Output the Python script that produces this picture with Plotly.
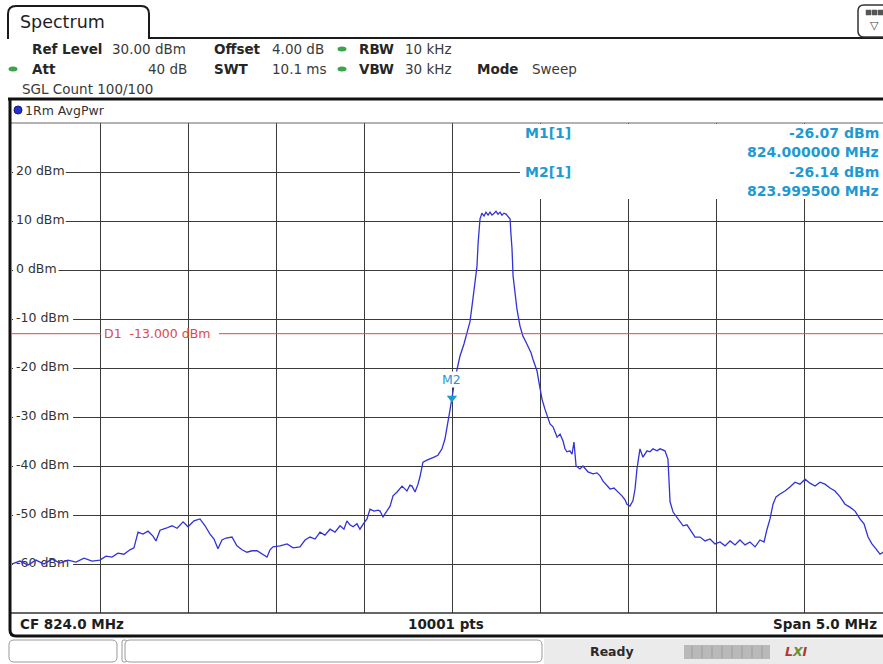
import plotly.graph_objects as go

W, H = 883, 664

# ---- spectrum trace (MHz, dBm) ----
freq_mhz = [
    821.500, 821.545, 821.591, 821.636, 821.682, 821.727, 821.773, 821.818, 821.864, 821.909,
    821.955, 822.000, 822.034, 822.068, 822.102, 822.136, 822.170, 822.193, 822.216, 822.244,
    822.273, 822.301, 822.318, 822.341, 822.375, 822.409, 822.438, 822.472, 822.500, 822.534,
    822.568, 822.597, 822.625, 822.648, 822.670, 822.693, 822.716, 822.750, 822.778, 822.807,
    822.835, 822.864, 822.892, 822.920, 822.949, 822.966, 822.983, 823.023, 823.063, 823.097,
    823.136, 823.165, 823.193, 823.222, 823.250, 823.278, 823.307, 823.335, 823.364, 823.386,
    823.403, 823.420, 823.438, 823.460, 823.477, 823.500, 823.517, 823.534, 823.557, 823.580,
    823.591, 823.608, 823.631, 823.648, 823.665, 823.688, 823.716, 823.744, 823.761, 823.773,
    823.790, 823.807, 823.818, 823.835, 823.858, 823.875, 823.898, 823.920, 823.943, 823.960,
    823.977, 823.989, 823.9995, 824.000, 824.017, 824.034, 824.045, 824.068, 824.085, 824.102,
    824.119, 824.131, 824.142, 824.148, 824.159, 824.170, 824.182, 824.193, 824.205, 824.216,
    824.227, 824.239, 824.250, 824.261, 824.273, 824.284, 824.295, 824.307, 824.318, 824.330,
    824.335, 824.341, 824.347, 824.358, 824.369, 824.386, 824.403, 824.420, 824.432, 824.449,
    824.460, 824.472, 824.483, 824.494, 824.511, 824.528, 824.540, 824.557, 824.574, 824.597,
    824.614, 824.631, 824.642, 824.653, 824.670, 824.682, 824.693, 824.705, 824.727, 824.744,
    824.773, 824.801, 824.824, 824.841, 824.858, 824.881, 824.898, 824.920, 824.938, 824.966,
    824.983, 824.994, 825.011, 825.028, 825.040, 825.051, 825.068, 825.085, 825.108, 825.125,
    825.142, 825.165, 825.182, 825.199, 825.210, 825.227, 825.239, 825.256, 825.284, 825.313,
    825.335, 825.352, 825.381, 825.409, 825.438, 825.466, 825.494, 825.523, 825.551, 825.580,
    825.608, 825.636, 825.665, 825.693, 825.722, 825.750, 825.773, 825.790, 825.807, 825.824,
    825.841, 825.864, 825.892, 825.920, 825.949, 825.977, 826.006, 826.034, 826.063, 826.091,
    826.119, 826.148, 826.176, 826.205, 826.233, 826.261, 826.290, 826.318, 826.341, 826.364,
    826.386, 826.409, 826.432, 826.449, 826.500,
]
level_dbm = [
    -60.0, -59.4, -60.2, -59.2, -60.0, -59.0, -59.8, -59.2, -59.6, -58.8,
    -59.4, -59.2, -58.4, -58.6, -57.8, -58.0, -57.1, -56.7, -53.5, -53.9,
    -53.3, -54.3, -55.3, -53.1, -52.7, -52.2, -52.7, -51.4, -52.4, -51.2,
    -50.8, -52.2, -53.9, -54.9, -56.9, -55.1, -54.7, -54.5, -56.3, -57.1,
    -57.6, -57.3, -57.3, -58.0, -58.6, -57.1, -56.5, -56.3, -55.9, -56.7,
    -56.5, -55.1, -54.5, -54.9, -53.5, -54.1, -52.9, -53.5, -52.2, -52.9,
    -51.2, -52.0, -52.4, -51.8, -52.9, -51.6, -50.8, -48.8, -49.2, -49.0,
    -49.2, -50.4, -49.0, -48.2, -46.1, -45.3, -44.1, -45.1, -43.9, -44.1,
    -45.3, -43.7, -42.2, -39.2, -38.8, -38.6, -38.2, -37.8, -36.5, -34.5,
    -31.4, -28.5, -26.14, -26.07, -22.2, -19.2, -17.6, -15.1, -12.7, -10.6,
    -5.9, -2.4, 0.8, 5.3, 10.4, 11.6, 11.0, 11.8, 11.2, 11.8,
    11.2, 11.6, 12.0, 11.4, 11.8, 11.2, 11.6, 11.4, 11.0, 10.4,
    7.3, 4.3, -1.2, -4.9, -8.0, -11.4, -13.5, -14.7, -15.5, -16.9,
    -18.2, -19.4, -20.6, -22.9, -26.3, -28.4, -29.8, -31.4, -32.0, -34.1,
    -33.5, -34.9, -36.5, -37.1, -36.9, -37.6, -35.1, -40.0, -40.6, -40.0,
    -41.2, -41.6, -41.4, -42.0, -43.1, -43.9, -44.7, -44.5, -45.1, -46.1,
    -46.9, -47.8, -48.2, -47.1, -44.7, -40.6, -36.5, -38.2, -36.9, -37.1,
    -36.5, -36.9, -36.5, -36.7, -36.9, -38.6, -47.3, -49.4, -50.8, -52.2,
    -52.0, -52.9, -54.5, -54.5, -55.3, -54.9, -55.9, -55.5, -56.3, -55.3,
    -56.1, -55.1, -56.1, -55.5, -56.5, -55.1, -55.5, -52.9, -50.8, -47.8,
    -46.3, -45.7, -45.1, -44.3, -43.3, -43.7, -42.7, -43.5, -44.1, -43.3,
    -43.7, -44.5, -45.1, -46.3, -47.8, -48.4, -49.2, -50.8, -51.8, -54.5,
    -55.9, -56.9, -58.0, -57.6, -58.6,
]

# ---- instrument settings ----
center_mhz = 824.0
span_mhz = 5.0
ref_level_dbm = 30.0
db_per_div = 10.0
n_ydiv = 10
display_line_dbm = -13.0

marker_names = ["M1", "M2"]
marker_freq_mhz = [824.000000, 823.999500]
marker_level_dbm = [-26.07, -26.14]

ytick_vals = [20, 10, 0, -10, -20, -30, -40, -50, -60]
ytick_text = ["20 dBm", "10 dBm", "0 dBm", "-10 dBm", "-20 dBm",
              "-30 dBm", "-40 dBm", "-50 dBm", "-60 dBm"]

# ---- screen geometry (pixels) ----
GX0, GW = 12, 880          # graticule left edge and full width (10 divisions)
GY0, GY1 = 123, 613        # graticule top / bottom
FONT = "DejaVu Sans"
TRACE_BLUE = "#3232d8"
MK_CYAN = "#1e9ad2"
DL_RED = "#e04848"
GRID = "#3a3a3a"

f_start = center_mhz - span_mhz / 2
mhz_per_px = span_mhz / GW
f_vis_end = f_start + (W - GX0) * mhz_per_px
y_bottom = ref_level_dbm - n_ydiv * db_per_div
db_per_px = n_ydiv * db_per_div / (GY1 - GY0)


def fx(px):
    return f_start + (px - GX0) * mhz_per_px


def ly(py):
    return ref_level_dbm - (py - GY0) * db_per_px


def PX(x):
    return x / W


def PY(y):
    return 1 - y / H


def pt(x, y):
    return f"{PX(x):.5f},{PY(y):.5f}"


fig = go.Figure()

# y-axis level labels, drawn inside the graticule and under the trace
fig.add_trace(go.Scatter(
    x=[fx(16)] * len(ytick_vals), y=ytick_vals, text=ytick_text,
    mode="text", textposition="middle right", hoverinfo="skip",
    textfont=dict(family=FONT, size=12.5, color="#333333"), showlegend=False,
))

# spectrum trace
fig.add_trace(go.Scatter(
    x=freq_mhz, y=level_dbm, mode="lines", hoverinfo="skip",
    line=dict(color=TRACE_BLUE, width=1.3), showlegend=False,
))

# marker symbol (M2 sits on top of M1)
fig.add_trace(go.Scatter(
    x=[marker_freq_mhz[1]], y=[marker_level_dbm[1]], mode="markers",
    marker=dict(symbol="triangle-down", size=9, color=MK_CYAN),
    hoverinfo="skip", showlegend=False,
))

shapes = []
annotations = []

# white patches behind the level labels (cut the grid lines)
for v, t in zip(ytick_vals, ytick_text):
    shapes.append(dict(type="rect", xref="x", yref="y", layer="between",
                       x0=fx(GX0 + 1), x1=fx(22 + 7.3 * len(t)),
                       y0=v - 6 * db_per_px, y1=v + 6 * db_per_px,
                       fillcolor="white", line=dict(width=0)))

# white marker readout area at the top right
shapes.append(dict(type="rect", xref="x", yref="y", layer="between",
                   x0=fx(520), x1=fx(W + 20), y0=ly(199), y1=ref_level_dbm - 0.2,
                   fillcolor="white", line=dict(width=0)))

# display line D1
shapes.append(dict(type="line", xref="x", yref="y", layer="above",
                   x0=f_start, x1=fx(101), y0=display_line_dbm, y1=display_line_dbm,
                   line=dict(color=DL_RED, width=1)))
shapes.append(dict(type="line", xref="x", yref="y", layer="above",
                   x0=fx(219), x1=f_vis_end + 0.1, y0=display_line_dbm, y1=display_line_dbm,
                   line=dict(color=DL_RED, width=1)))
annotations.append(dict(xref="x", yref="y", x=fx(102), y=display_line_dbm,
                        xanchor="left", yanchor="middle", showarrow=False,
                        text="D1  -13.000 dBm",
                        font=dict(family=FONT, size=12.5, color=DL_RED)))

# graticule top and bottom borders
shapes.append(dict(type="line", xref="paper", yref="paper", layer="above",
                   x0=PX(10), x1=1, y0=PY(GY0), y1=PY(GY0), line=dict(color="#666", width=1)))
shapes.append(dict(type="line", xref="paper", yref="paper", layer="above",
                   x0=PX(10), x1=1, y0=PY(GY1), y1=PY(GY1), line=dict(color="#333", width=1.5)))

# ---- window chrome ----
# tab outline + header rule
shapes.append(dict(type="path", xref="paper", yref="paper", layer="above",
                   path=f"M{pt(8, 39)} L{pt(8, 14)} Q{pt(8, 6)} {pt(16, 6)} L{pt(141, 6)} "
                        f"Q{pt(149, 6)} {pt(149, 14)} L{pt(149, 38)} L{pt(W, 38)}",
                   line=dict(color="#1a1a1a", width=2)))
# menu icon box at the right
shapes.append(dict(type="path", xref="paper", yref="paper", layer="above",
                   path=f"M{pt(W + 2, 5)} L{pt(864, 5)} Q{pt(858, 5)} {pt(858, 11)} "
                        f"L{pt(858, 31)} Q{pt(858, 37)} {pt(864, 37)} L{pt(W + 2, 37)}",
                   line=dict(color="#333", width=1.5)))
for i in range(3):
    shapes.append(dict(type="rect", xref="paper", yref="paper", layer="above",
                       x0=PX(866 + i * 6), x1=PX(871 + i * 6), y0=PY(15), y1=PY(10),
                       fillcolor="#555", line=dict(color="#555", width=0.5)))
annotations.append(dict(xref="paper", yref="paper", x=PX(874), y=PY(25),
                        xanchor="center", yanchor="middle", showarrow=False, text="▽",
                        font=dict(family=FONT, size=11, color="#444")))

# rule under the settings block
shapes.append(dict(type="line", xref="paper", yref="paper", layer="above",
                   x0=PX(8), x1=1, y0=PY(99), y1=PY(99), line=dict(color="#111", width=3)))
# diagram frame (left side + bottom rule)
shapes.append(dict(type="path", xref="paper", yref="paper", layer="above",
                   path=f"M{pt(10, 99)} L{pt(10, 630)} Q{pt(10, 636)} {pt(16, 636)} L{pt(W + 2, 636)}",
                   line=dict(color="#111", width=3)))

# status bar
shapes.append(dict(type="rect", xref="paper", yref="paper", layer="below",
                   x0=PX(544), x1=1, y0=PY(664), y1=PY(639),
                   fillcolor="#ebebeb", line=dict(width=0)))


def rbox(x0, y0, x1, y1, r=5, color="#9a9a9a"):
    return dict(type="path", xref="paper", yref="paper", layer="above",
                path=f"M{pt(x0 + r, y0)} L{pt(x1 - r, y0)} Q{pt(x1, y0)} {pt(x1, y0 + r)} "
                     f"L{pt(x1, y1 - r)} Q{pt(x1, y1)} {pt(x1 - r, y1)} L{pt(x0 + r, y1)} "
                     f"Q{pt(x0, y1)} {pt(x0, y1 - r)} L{pt(x0, y0 + r)} Q{pt(x0, y0)} {pt(x0 + r, y0)} Z",
                fillcolor="white", line=dict(color=color, width=1))


shapes.append(rbox(9, 640, 117, 662))
shapes.append(rbox(122, 640, 127, 662, r=2))
shapes.append(rbox(125, 640, 542, 662))
shapes.append(dict(type="rect", xref="paper", yref="paper", layer="above",
                   x0=PX(684), x1=PX(770), y0=PY(659), y1=PY(645),
                   fillcolor="#b9b9b9", line=dict(width=0)))
for k in range(8):
    xk = 692 + k * 10
    shapes.append(dict(type="line", xref="paper", yref="paper", layer="above",
                       x0=PX(xk), x1=PX(xk), y0=PY(658), y1=PY(646),
                       line=dict(color="#a6a6a6", width=1.5)))


def txt(x, y, s, size=14, color="#262626", anchor="left", bold=False, **kw):
    if bold:
        s = f"<b>{s}</b>"
    annotations.append(dict(xref="paper", yref="paper", x=PX(x), y=PY(y), text=s,
                            xanchor=anchor, yanchor="middle", showarrow=False,
                            font=dict(family=FONT, size=size, color=color), **kw))


# tab title and settings block
txt(18, 22, "Spectrum", size=17.5, color="#1e1e1e")
txt(30, 49, "Ref Level", bold=True, size=13.5)
txt(110, 49, "30.00 dBm", size=13.5, color="#3a3a3a")
txt(212, 49, "Offset", bold=True, size=13.5)
txt(270, 49, "4.00 dB", size=13.5, color="#3a3a3a")
txt(357, 49, "RBW", bold=True, size=13.5)
txt(403, 49, "10 kHz", size=13.5, color="#3a3a3a")
txt(30, 69, "Att", bold=True, size=13.5)
txt(189, 69, "40 dB", size=13.5, color="#3a3a3a", anchor="right")
txt(212, 69, "SWT", bold=True, size=13.5)
txt(270, 69, "10.1 ms", size=13.5, color="#3a3a3a")
txt(357, 69, "VBW", bold=True, size=13.5)
txt(403, 69, "30 kHz", size=13.5, color="#3a3a3a")
txt(475, 69, "Mode", bold=True, size=13.5)
txt(530, 69, "Sweep", size=13.5, color="#3a3a3a")
txt(20, 89, "SGL Count 100/100", size=13.5, color="#3a3a3a")

# green status dots
for (dx, dy) in [(342, 49), (13, 69), (342, 69)]:
    shapes.append(dict(type="circle", xref="paper", yref="paper", layer="above",
                       x0=PX(dx - 4.5), x1=PX(dx + 4.5), y0=PY(dy - 2.5), y1=PY(dy + 2.5),
                       fillcolor="#3aa54a", line=dict(width=0)))

# trace label
shapes.append(dict(type="circle", xref="paper", yref="paper", layer="above",
                   x0=PX(14), x1=PX(22), y0=PY(106), y1=PY(114),
                   fillcolor="#2430d0", line=dict(color="#101880", width=1)))
txt(23, 110, "1Rm AvgPwr", size=12.5, color="#333")

# marker readout
txt(523, 133, "M1[1]", bold=True, size=14, color=MK_CYAN)
txt(523, 172, "M2[1]", bold=True, size=14, color=MK_CYAN)
txt(881, 133, f"{marker_level_dbm[0]:.2f} dBm", bold=True, size=14, color=MK_CYAN, anchor="right")
txt(881, 152, f"{marker_freq_mhz[0]:.6f} MHz", bold=True, size=14, color=MK_CYAN, anchor="right")
txt(881, 172, f"{marker_level_dbm[1]:.2f} dBm", bold=True, size=14, color=MK_CYAN, anchor="right")
txt(881, 191, f"{marker_freq_mhz[1]:.6f} MHz", bold=True, size=14, color=MK_CYAN, anchor="right")

# marker tag above the symbol (M2 drawn on an opaque tag over M1)
annotations.append(dict(xref="x", yref="y", x=marker_freq_mhz[1], y=marker_level_dbm[1],
                        yshift=19, xanchor="center", yanchor="middle", showarrow=False,
                        text=marker_names[1], bgcolor="white", borderpad=0,
                        font=dict(family=FONT, size=12.5, color=MK_CYAN)))

# footer of the diagram
txt(18, 624, "CF 824.0 MHz", bold=True, size=13.5, color="#1e1e1e")
txt(446, 624, "10001 pts", bold=True, size=13.5, color="#1e1e1e", anchor="center")
txt(879, 624, "Span 5.0 MHz", bold=True, size=13.5, color="#1e1e1e", anchor="right")

# status bar text
txt(612, 651, "Ready", bold=True, size=12.5, color="#2a2a2a", anchor="center")
annotations.append(dict(xref="paper", yref="paper", x=PX(796), y=PY(651), xanchor="center",
                        yanchor="middle", showarrow=False,
                        text="<b><i><span style='color:#b03a2e'>L</span>"
                             "<span style='color:#6d8f2f'>X</span>"
                             "<span style='color:#b03a2e'>I</span></i></b>",
                        font=dict(family=FONT, size=12.5)))

fig.update_layout(
    width=W, height=H,
    margin=dict(l=0, r=0, t=0, b=0),
    paper_bgcolor="white", plot_bgcolor="white",
    showlegend=False,
    xaxis=dict(domain=[PX(GX0), 1], range=[f_start, f_vis_end],
               tick0=f_start, dtick=span_mhz / 10, showgrid=True,
               gridcolor=GRID, gridwidth=1.2, zeroline=False, showline=False,
               showticklabels=False, ticks="", fixedrange=True),
    yaxis=dict(domain=[PY(GY1), PY(GY0)], range=[y_bottom, ref_level_dbm],
               tick0=y_bottom, dtick=db_per_div, showgrid=True,
               gridcolor=GRID, gridwidth=1.2, zeroline=False, showline=False,
               showticklabels=False, ticks="", fixedrange=True),
    shapes=shapes,
    annotations=annotations,
)

fig.write_html("out.html")
